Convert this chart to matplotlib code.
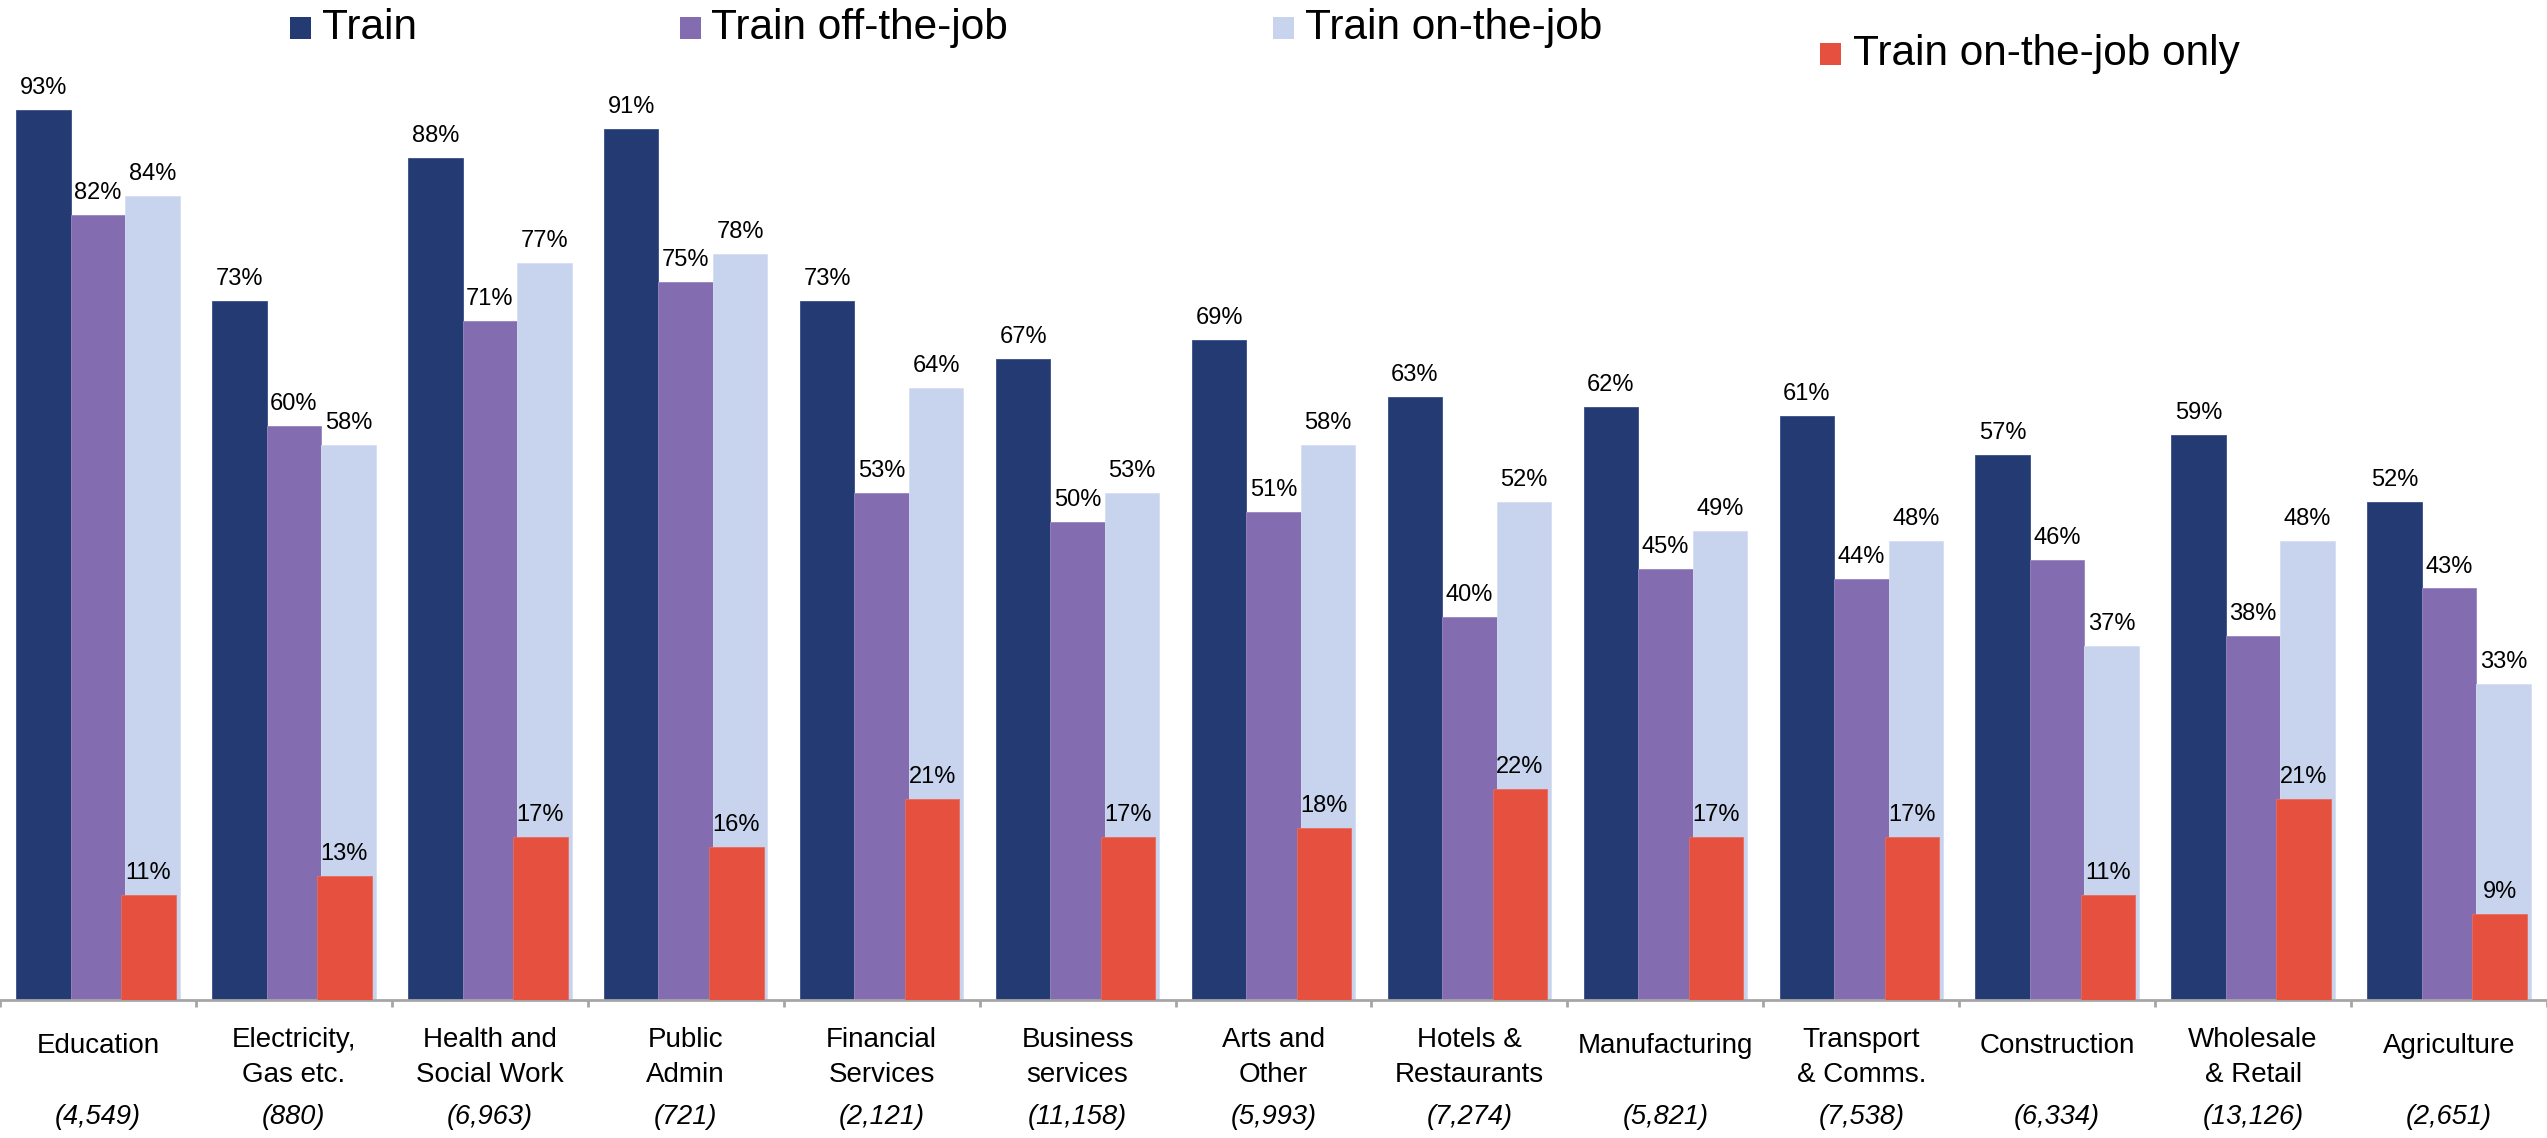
import matplotlib
matplotlib.use("Agg")
import matplotlib.pyplot as plt
import numpy as np
from matplotlib.patches import Rectangle
from matplotlib.transforms import blended_transform_factory

plt.rcParams['font.family'] = ['Liberation Sans', 'DejaVu Sans']

categories = ["Education", "Electricity,\nGas etc.", "Health and\nSocial Work", "Public\nAdmin",
              "Financial\nServices", "Business\nservices", "Arts and\nOther", "Hotels &\nRestaurants",
              "Manufacturing", "Transport\n& Comms.", "Construction", "Wholesale\n& Retail", "Agriculture"]
counts = ["(4,549)", "(880)", "(6,963)", "(721)", "(2,121)", "(11,158)", "(5,993)", "(7,274)",
          "(5,821)", "(7,538)", "(6,334)", "(13,126)", "(2,651)"]
train = [93, 73, 88, 91, 73, 67, 69, 63, 62, 61, 57, 59, 52]
train_off = [82, 60, 71, 75, 53, 50, 51, 40, 45, 44, 46, 38, 43]
train_on = [84, 58, 77, 78, 64, 53, 58, 52, 49, 48, 37, 48, 33]
train_on_only = [11, 13, 17, 16, 21, 17, 18, 22, 17, 17, 11, 21, 9]
series_names = ["Train", "Train off-the-job", "Train on-the-job", "Train on-the-job only"]
colors = ["#243A73", "#836DB0", "#C8D4EE", "#E6513F"]

W, H = 2547, 1138
fig = plt.figure(figsize=(W / 100, H / 100), dpi=100)
base_pix = 1000
ax = fig.add_axes([0, (H - base_pix) / H, 1, base_pix / H])
ymax = base_pix / 9.57
ax.set_ylim(0, ymax)
n = len(categories)
ax.set_xlim(-0.5, n - 0.5)
x = np.arange(n)
bw = 0.278

def label(bars, vals):
    for b, v in zip(bars, vals):
        ax.annotate(f"{v}%", (b.get_x() + b.get_width() / 2, b.get_height()),
                    xytext=(0, 11.5), textcoords="offset points", ha="center",
                    va="baseline", fontsize=17, color="black")

b1 = ax.bar(x - bw, train, bw, color=colors[0], edgecolor="#3b4f86", linewidth=0.6, zorder=2)
b2 = ax.bar(x, train_off, bw, color=colors[1], edgecolor="#9886c0", linewidth=0.6, zorder=2)
b3 = ax.bar(x + bw, train_on, bw, color=colors[2], edgecolor="#d6def2", linewidth=0.6, zorder=2)
b4 = ax.bar(x + bw - 0.02, train_on_only, bw, color=colors[3], edgecolor="#ea6a5a", linewidth=0.6, zorder=3)
for bars, vals in [(b1, train), (b2, train_off), (b3, train_on), (b4, train_on_only)]:
    label(bars, vals)

for s in ["top", "right", "left"]:
    ax.spines[s].set_visible(False)
ax.spines["bottom"].set_color("#A6A6A6")
ax.spines["bottom"].set_linewidth(2)
ax.set_yticks([])
ax.set_xticks([])
ax.set_xticks(np.arange(n + 1) - 0.5, minor=True)
ax.tick_params(axis="x", which="minor", length=5, width=2, color="#A6A6A6", labelbottom=False)

tr = blended_transform_factory(ax.transData, fig.transFigure)
for i, (cat, cnt) in enumerate(zip(categories, counts)):
    lines = cat.split("\n")
    if len(lines) == 1:
        ys = [1046]
    else:
        ys = [1040, 1075]
    for ln, yp in zip(lines, ys):
        ax.text(i, 1 - yp / H, ln, transform=tr, ha="center", va="center", fontsize=20)
    ax.text(i, 1 - 1117 / H, cnt, transform=tr, ha="center", va="center", fontsize=19.5, style="italic")

# legend
leg_items = [(290, 17, 322), (680, 17, 711), (1273, 17, 1305), (1820, 43, 1853)]
for (mx, my, tx), name, c in zip(leg_items, series_names, colors):
    fig.patches.append(Rectangle((mx / W, 1 - (my + 22) / H), 21 / W, 22 / H,
                                 transform=fig.transFigure, facecolor=c, edgecolor="none"))
    fig.text(tx / W, 1 - (my + 22) / H, name, fontsize=30.5, va="baseline", ha="left")

fig.savefig("out.png", dpi=100)
